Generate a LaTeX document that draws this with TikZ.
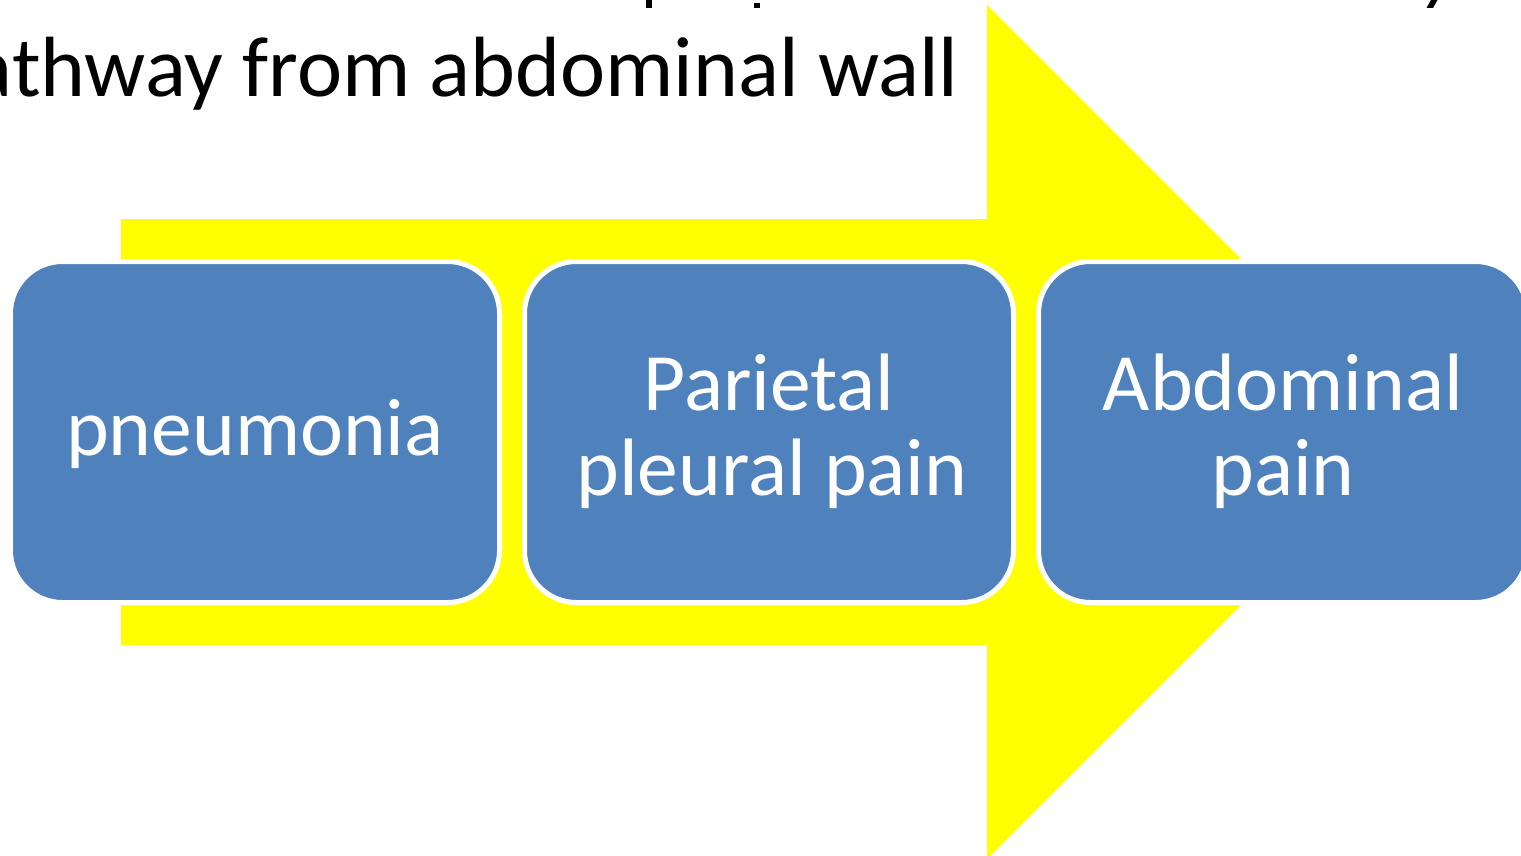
\documentclass[tikz,border=0pt]{standalone}
\usepackage{fontspec}
\setmainfont{Carlito}
\definecolor{boxblue}{HTML}{4F81BD}
\definecolor{arrowyellow}{HTML}{FFFF00}
\tikzset{
  stepbox/.style={draw=white, fill=boxblue, line width=5pt, rounded corners=52pt,
    minimum width=489pt, minimum height=341pt, inner sep=0pt, outer sep=0pt},
  boxtext/.style={text=white, font=\fontsize{81.5}{85}\selectfont, inner sep=0pt, anchor=base},
  titletext/.style={text=black, font=\fontsize{85.5}{100}\selectfont, inner sep=0pt, anchor=base east},
  bigarrow/.style={fill=arrowyellow, draw=none}
}
\begin{document}
\begin{tikzpicture}[x=1pt,y=-1pt]
  \useasboundingbox (0,0) rectangle (1521,856);
  \clip (0,0) rectangle (1521,856);
  % background arrow
  \fill[bigarrow] (121,219) -- (987,219) -- (987,5) -- (1414,432) -- (987,859) -- (987,645) -- (121,645) -- cycle;
  % cut-off descenders of the line above
  \fill[black] (645.5,0) rectangle (651.5,8);
  \fill[black] (754,3) rectangle (760,8);
  \fill[black] (1431,0) -- (1437.5,0) -- (1433,8) -- (1426.5,8) -- cycle;
  % title line
  \node[titletext] (title) at (959,97) {pathway from abdominal wall};
  % boxes
  \node[stepbox] (b1) at (255,432) {};
  \node[stepbox] (b2) at (769,432) {};
  \node[stepbox] (b3) at (1283,432) {};
  % texts
  \node[boxtext] (t1) at (255,455) {pneumonia};
  \node[boxtext] (t2a) at (769,410) {Parietal};
  \node[boxtext] (t2b) at (772,495) {pleural pain};
  \node[boxtext] (t3a) at (1283,410) {Abdominal};
  \node[boxtext] (t3b) at (1283,495) {pain};
\end{tikzpicture}
\end{document}
